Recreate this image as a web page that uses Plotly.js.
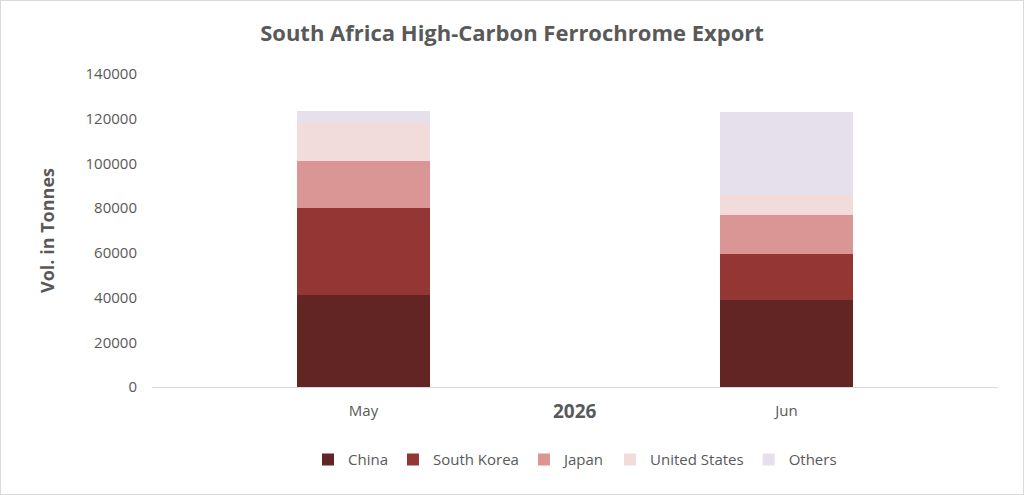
<!DOCTYPE html>
<html>
<head>
<meta charset="utf-8">
<script src="https://cdn.plot.ly/plotly-3.0.1.min.js"></script>
<style>
  body { margin: 0; background: #fff; }
  #graphDiv { width: 1024px; height: 495px; box-sizing: border-box; border: 1px solid #d9d9d9; }
</style>
</head>
<body>
<div id="graphDiv"></div>
<script>
// months shown under the year 2026
const months = ['May', 'Jun'];
const yearLabel = '2026';

// export volumes in tonnes
const china = [41000, 38900];
const southKorea = [39000, 20400];
const japan = [21200, 17600];
const unitedStates = [17200, 8900];
const others = [5000, 37300];

drawGraph();

function drawGraph(){
    const font = 'Open Sans, Noto Sans, sans-serif';
    const grey = '#595959';

    function barTrace(name, values, colour){
      return {
        x: months,
        y: values,
        type: 'bar',
        name: name,
        marker: {color: colour},
        hoverinfo: 'skip'
      };
    }

    const data = [
      barTrace('China', china, '#632523'),
      barTrace('South Korea', southKorea, '#943634'),
      barTrace('Japan', japan, '#D99694'),
      barTrace('United States', unitedStates, '#F2DCDB'),
      barTrace('Others', others, '#E6E0EC')
    ];

    const layout = {
      width: 1022,
      height: 493,
      margin: {l: 151, r: 25, t: 73, b: 107},
      barmode: 'stack',
      bargap: 0.686,
      paper_bgcolor: '#ffffff',
      plot_bgcolor: '#ffffff',
      font: {family: font, color: grey, size: 15},
      title: {
        text: '<b>South Africa High-Carbon Ferrochrome Export</b>',
        font: {family: font, size: 22, color: grey},
        x: 0.5,
        xanchor: 'center',
        y: 0.935,
        yanchor: 'middle'
      },
      xaxis: {
        showgrid: false,
        showline: true,
        linecolor: '#d9d9d9',
        linewidth: 1,
        ticks: '',
        ticklabelstandoff: 10,
        tickfont: {size: 15, color: grey},
        fixedrange: true
      },
      yaxis: {
        range: [0, 140000],
        dtick: 20000,
        showgrid: false,
        zeroline: false,
        showline: false,
        tickformat: 'd',
        ticks: '',
        ticklen: 0,
        ticklabelstandoff: 14,
        tickfont: {size: 15, color: grey},
        title: {
          text: '<b>Vol. in Tonnes</b>',
          font: {size: 18, color: grey},
          standoff: 26
        }
      },
      legend: {
        orientation: 'h',
        x: 0.5,
        xanchor: 'center',
        y: -0.18,
        yanchor: 'top',
        font: {size: 15, color: grey},
        traceorder: 'normal',
        itemwidth: 30
      },
      annotations: [{
        text: '<b>' + yearLabel + '</b>',
        xref: 'paper',
        yref: 'paper',
        x: 0.5,
        y: -0.03,
        yanchor: 'top',
        showarrow: false,
        font: {size: 19, color: grey}
      }]
    };

    Plotly.newPlot('graphDiv', data, layout, {staticPlot: true});
}
</script>
</body>
</html>
